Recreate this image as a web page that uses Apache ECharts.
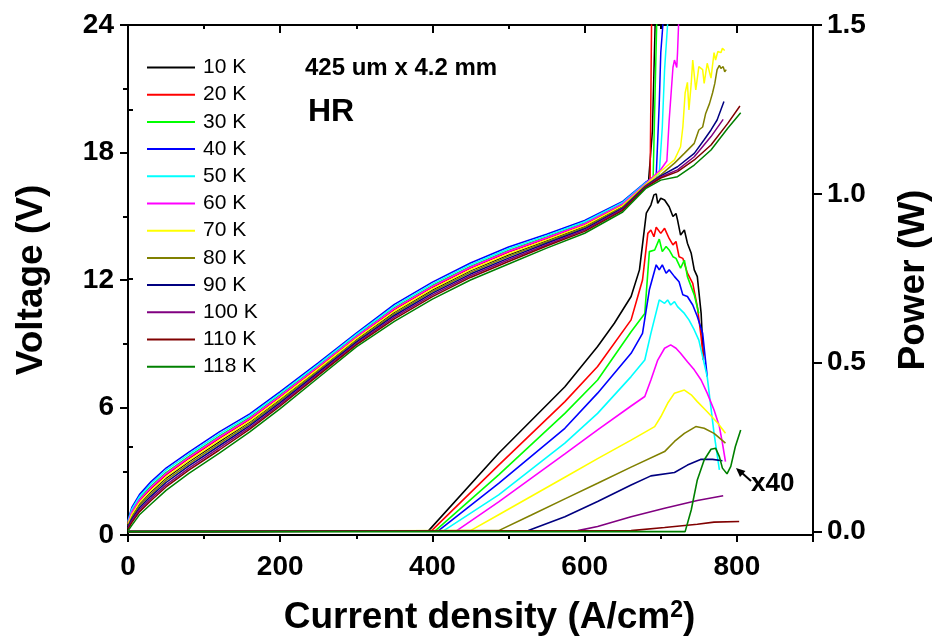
<!DOCTYPE html>
<html>
<head>
<meta charset="utf-8">
<script src="https://cdn.jsdelivr.net/npm/echarts@6/dist/echarts.min.js"></script>
<style>
html,body{margin:0;padding:0;background:#fff;}
#chart{width:940px;height:641px;}
</style>
</head>
<body>
<div id="chart"></div>
<script>
// ---------------- data ----------------
const temps = ['10 K','20 K','30 K','40 K','50 K','60 K','70 K','80 K','90 K','100 K','110 K','118 K'];
const colorList = ['#000000','#ff0000','#00ff00','#0000ff','#00ffff','#ff00ff','#ffff00','#808000','#000080','#800080','#800000','#008000'];

// common current-density grid for the voltage curves (A/cm2)
const jGrid = [0,5,15,30,50,80,120,160,200,250,300,350,400,450,500,550,600,650,680];

// voltage (V) on jGrid
const vol10K  = [0.48,0.92,1.47,2.03,2.68,3.45,4.4,5.32,6.39,7.79,9.21,10.49,11.54,12.44,13.19,13.86,14.53,15.48,16.47];
const vol20K  = [0.55,1.04,1.61,2.18,2.83,3.6,4.55,5.44,6.51,7.89,9.3,10.61,11.66,12.56,13.31,13.95,14.62,15.55,16.51];
const vol30K  = [0.6,1.13,1.71,2.29,2.94,3.7,4.65,5.53,6.59,7.96,9.37,10.69,11.74,12.64,13.39,14.02,14.68,15.6,16.54];
const vol40K  = [0.7,1.3,1.9,2.5,3.15,3.9,4.85,5.7,6.75,8.1,9.5,10.85,11.9,12.8,13.55,14.15,14.8,15.7,16.6];
const vol50K  = [0.65,1.22,1.8,2.4,3.05,3.8,4.75,5.62,6.67,8.03,9.44,10.77,11.82,12.72,13.47,14.09,14.74,15.65,16.57];
const vol60K  = [0.58,1.09,1.66,2.24,2.89,3.65,4.6,5.49,6.55,7.93,9.34,10.65,11.7,12.6,13.35,13.99,14.65,15.58,16.53];
const vol70K  = [0.5,0.96,1.52,2.08,2.73,3.5,4.45,5.36,6.43,7.82,9.24,10.53,11.58,12.48,13.23,13.89,14.56,15.5,16.48];
const vol80K  = [0.43,0.83,1.38,1.92,2.57,3.35,4.3,5.23,6.31,7.72,9.14,10.41,11.46,12.36,13.11,13.79,14.47,15.43,16.44];
const vol90K  = [0.38,0.75,1.28,1.82,2.47,3.25,4.2,5.15,6.23,7.65,9.08,10.33,11.38,12.28,13.03,13.73,14.41,15.38,16.41];
const vol100K = [0.33,0.66,1.19,1.71,2.36,3.15,4.1,5.06,6.15,7.58,9.01,10.25,11.3,12.2,12.95,13.66,14.35,15.33,16.38];
const vol110K = [0.28,0.58,1.09,1.61,2.26,3.05,4.0,4.98,6.07,7.51,8.95,10.17,11.22,12.12,12.87,13.6,14.29,15.28,16.35];
const vol118K = [0.2,0.45,0.95,1.45,2.1,2.9,3.85,4.85,5.95,7.4,8.85,10.05,11.1,12.0,12.75,13.5,14.2,15.2,16.3];

// high-current tails of the voltage curves [J, V]
const tail10K  = [[684,16.7],[689,19.0],[693,24.6]];
const tail20K  = [[686,16.75],[688,24.6]];
const tail30K  = [[690,16.85],[692,20.0],[695,24.6]];
const tail40K  = [[694,16.9],[698,20.3],[700,22.7],[704,24.6]];
const tail50K  = [[698,17.0],[702,19.2],[705,21.9],[710,24.6]];
const tail60K  = [[700,17.2],[708,17.6],[711,19.5],[716,22.0],[718,22.35],[721,22.0],[722,22.7],[724,24.6]];
const tail70K  = [[707,17.33],[718,17.65],[726,18.27],[729,19.2],[732,20.8],[735,21.3],[737,20.0],[740,21.25],[742,22.35],[746,20.94],[750,22.04],[755,21.9],[757,21.25],[761,22.2],[766,21.5],[770,22.7],[772,22.35],[775,22.75],[779,22.7],[781,22.9],[784,22.8]];
const tail80K  = [[700,16.95],[718,17.5],[731,17.96],[744,18.43],[750,19.06],[755,19.2],[759,19.84],[764,20.3],[768,20.8],[771,21.25],[774,21.9],[777,22.1],[779,21.96],[782,22.04],[784,21.8],[786,21.9]];
const tail90K  = [[700,16.9],[722,17.33],[744,17.96],[757,18.6],[766,19.06],[774,19.53],[783,20.4]];
const tail100K = [[700,16.85],[722,17.18],[744,17.8],[766,18.75],[782,19.56]];
const tail110K = [[700,16.8],[722,17.1],[744,17.65],[766,18.35],[788,19.37],[804,20.19]];
const tail118K = [[700,16.7],[722,16.86],[744,17.41],[766,18.12],[788,19.14],[805,19.87]];

// optical power (W) [J, P]  (118 K is shown x40)
const pow10K  = [[0,0],[395,0.003],[487,0.232],[574,0.429],[617,0.548],[639,0.617],[661,0.696],[672,0.775],[681,0.943],[687,0.967],[691,0.997],[694,1.0],[696,0.972],[700,0.987],[705,0.982],[711,0.962],[716,0.933],[720,0.942],[722,0.923],[726,0.878],[731,0.893],[735,0.854],[740,0.824],[744,0.775],[748,0.755],[753,0.647],[756,0.508]];
const pow20K  = [[0,0],[399,0.003],[487,0.197],[574,0.385],[617,0.489],[661,0.627],[676,0.745],[683,0.883],[687,0.893],[691,0.873],[694,0.901],[696,0.9],[700,0.883],[705,0.898],[711,0.868],[716,0.849],[720,0.859],[724,0.814],[729,0.809],[735,0.765],[742,0.735],[748,0.666],[753,0.577],[756,0.513]];
const pow30K  = [[0,0],[404,0.003],[487,0.168],[574,0.35],[617,0.449],[661,0.592],[679,0.646],[685,0.829],[692,0.834],[698,0.866],[702,0.829],[707,0.844],[711,0.834],[716,0.814],[720,0.809],[726,0.78],[731,0.804],[735,0.755],[744,0.701],[750,0.646]];
const pow40K  = [[0,0],[408,0.003],[487,0.143],[574,0.306],[617,0.41],[661,0.528],[676,0.587],[685,0.716],[694,0.79],[698,0.775],[702,0.79],[707,0.765],[711,0.775],[718,0.755],[724,0.74],[729,0.701],[735,0.696],[742,0.671],[748,0.637],[755,0.587],[761,0.459]];
const pow50K  = [[0,0],[415,0.003],[487,0.109],[574,0.262],[617,0.35],[661,0.459],[679,0.508],[687,0.587],[698,0.686],[705,0.676],[709,0.686],[713,0.671],[718,0.681],[722,0.666],[731,0.646],[737,0.627],[744,0.597],[750,0.567],[761,0.459],[770,0.291],[777,0.183]];
const pow60K  = [[0,0],[432,0.003],[487,0.088],[574,0.23],[617,0.301],[661,0.372],[679,0.4],[687,0.449],[696,0.508],[705,0.543],[713,0.553],[720,0.543],[726,0.528],[735,0.503],[744,0.479],[753,0.449],[761,0.41],[770,0.36],[777,0.311],[781,0.262],[785,0.207]];
const pow70K  = [[0,0],[450,0.003],[487,0.05],[574,0.161],[617,0.216],[661,0.271],[692,0.311],[700,0.34],[709,0.38],[718,0.41],[731,0.419],[740,0.405],[748,0.385],[761,0.355],[775,0.321],[785,0.291]];
const pow80K  = [[0,0],[487,0.003],[530,0.049],[574,0.097],[617,0.143],[661,0.191],[705,0.237],[718,0.267],[731,0.291],[746,0.311],[757,0.306],[770,0.291],[785,0.262]];
const pow90K  = [[0,0],[526,0.003],[574,0.044],[617,0.089],[661,0.138],[687,0.165],[718,0.175],[735,0.197],[753,0.214],[768,0.214],[781,0.21]];
const pow100K = [[0,0],[591,0.003],[617,0.015],[661,0.044],[705,0.069],[748,0.092],[782,0.106]];
const pow110K = [[0,0],[661,0.003],[705,0.012],[748,0.022],[770,0.028],[803,0.03]];
const pow118K = [[0,0],[732,0.0],[740,0.064],[748,0.153],[757,0.212],[766,0.244],[772,0.247],[777,0.222],[781,0.188],[787,0.171],[792,0.193],[798,0.252],[805,0.301]];

const volList  = [vol10K,vol20K,vol30K,vol40K,vol50K,vol60K,vol70K,vol80K,vol90K,vol100K,vol110K,vol118K];
const tailList = [tail10K,tail20K,tail30K,tail40K,tail50K,tail60K,tail70K,tail80K,tail90K,tail100K,tail110K,tail118K];
const powList  = [pow10K,pow20K,pow30K,pow40K,pow50K,pow60K,pow70K,pow80K,pow90K,pow100K,pow110K,pow118K];

const xTicks = [0,200,400,600,800];
const vTicks = [0,6,12,18,24];
const pTicks = [0,0.5,1.0,1.5];
const pMinorTicks = [0.25,0.75,1.25];

// ---------------- chart ----------------
const FONT = 'Liberation Sans, Arial, sans-serif';
const chart = echarts.init(document.getElementById('chart'), null, {renderer:'canvas'});

const series = [];
temps.forEach((t,i)=>{
  const d = jGrid.map((j,k)=>[j, volList[i][k]]).concat(tailList[i]);
  series.push({name:t, type:'line', xAxisIndex:0, yAxisIndex:0, data:d, symbol:'none',
    lineStyle:{width:1.5, color:colorList[i]}, itemStyle:{color:colorList[i]}, z:2});
});
temps.forEach((t,i)=>{
  series.push({name:t, type:'line', xAxisIndex:0, yAxisIndex:1, data:powList[i], symbol:'none',
    lineStyle:{width:1.6, color:colorList[i]}, itemStyle:{color:colorList[i]}, z:2});
});

function axLine(){ return {show:true, onZero:false, lineStyle:{color:'#000', width:2}}; }
function tick(len, inside, vals){ const o={show:true, inside:inside, length:len, lineStyle:{width:2,color:'#000'}}; if(vals) o.customValues=vals; return o; }
function minor(len){ return {show:true, splitNumber:2, length:len, lineStyle:{width:2,color:'#000'}}; }
function lab(margin, vals, fmt){ const o={color:'#000', fontFamily:FONT, fontWeight:'bold', fontSize:28, margin:margin, customValues:vals}; if(fmt) o.formatter=fmt; return o; }
const titleStyle = {color:'#000', fontFamily:FONT, fontWeight:'bold', fontSize:37};

const option = {
  animation:false,
  backgroundColor:'#fff',
  grid:{left:128, right:124, top:25, bottom:106, containLabel:false,
        show:true, borderColor:'#000', borderWidth:2, backgroundColor:'transparent'},
  legend:{
    data:temps, orient:'vertical', left:142, top:52, padding:5,
    icon:'rect', itemWidth:48, itemHeight:2, itemGap:6.2,
    textStyle:{color:'#000', fontFamily:FONT, fontSize:21, padding:[0,0,0,3]},
    selectedMode:false
  },
  xAxis:[
    {type:'value', position:'bottom', min:0, max:900, interval:200,
     axisLine:axLine(), axisTick:tick(7,false), minorTick:minor(4),
     splitLine:{show:false}, minorSplitLine:{show:false},
     axisLabel:lab(18, xTicks),
     name:'Current density (A/cm{sup|2})', nameLocation:'middle', nameGap:64,
     nameTextStyle:Object.assign({padding:[0,0,0,38],
       rich:{sup:{color:'#000', fontFamily:FONT, fontWeight:'bold', fontSize:23, verticalAlign:'top', lineHeight:37, padding:[0,0,12,0]}}}, titleStyle)
    },
    {type:'value', position:'top', min:0, max:900, interval:200,
     axisLine:axLine(), axisTick:tick(8,true), minorTick:minor(4),
     splitLine:{show:false}, axisLabel:{show:false}
    }
  ],
  yAxis:[
    {type:'value', position:'left', min:0, max:24, interval:6,
     axisLine:axLine(), axisTick:tick(8,false), minorTick:minor(5),
     splitLine:{show:false}, minorSplitLine:{show:false},
     axisLabel:lab(14, vTicks),
     name:'Voltage (V)', nameLocation:'middle', nameGap:78, nameRotate:90,
     nameTextStyle:titleStyle
    },
    {type:'value', position:'right', min:-0.01, max:1.5,
     axisLine:axLine(), axisTick:tick(9,false,pTicks),
     splitLine:{show:false},
     axisLabel:lab(14, pTicks, (v)=>v.toFixed(1)),
     name:'Power (W)', nameLocation:'middle', nameGap:82, nameRotate:90,
     nameTextStyle:titleStyle
    },
    {type:'value', position:'right', min:-0.01, max:1.5,
     axisLine:{show:false}, axisTick:tick(5,false,pMinorTicks),
     splitLine:{show:false}, axisLabel:{show:false}
    }
  ],
  graphic:[
    {type:'text', left:305, top:56, style:{text:'425 um x 4.2 mm', fill:'#000', font:'bold 24px '+FONT}},
    {type:'text', left:308, top:96, style:{text:'HR', fill:'#000', font:'bold 32px '+FONT}},
    {type:'text', left:751, top:471, style:{text:'x40', fill:'#000', font:'bold 26px '+FONT}},
    {type:'line', shape:{x1:742, y1:473, x2:751, y2:481}, style:{stroke:'#000', lineWidth:2}},
    {type:'polygon', shape:{points:[[736,468],[745.5,471],[740,477]]}, style:{fill:'#000'}}
  ],
  series:series
};
chart.setOption(option);
</script>
</body>
</html>
